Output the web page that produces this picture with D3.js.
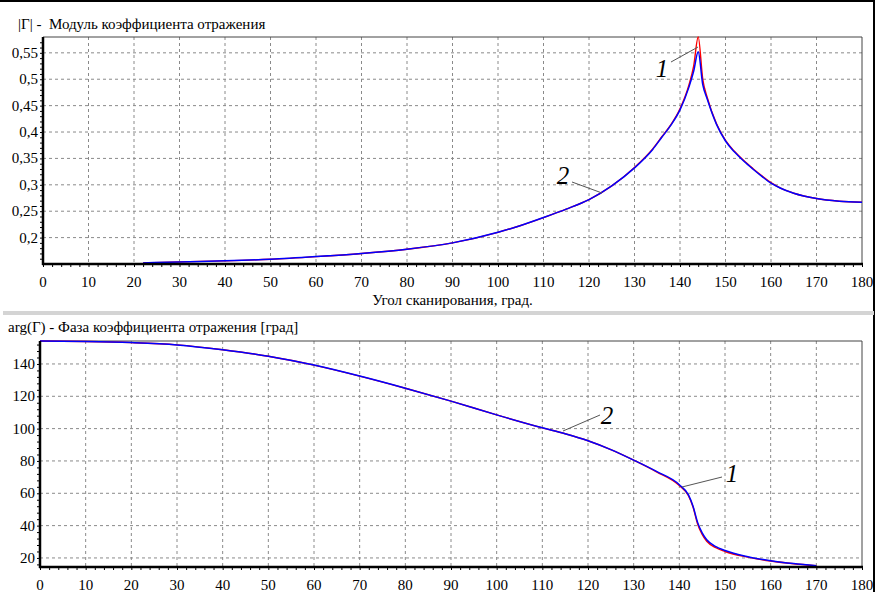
<!DOCTYPE html>
<html>
<head>
<meta charset="utf-8">
<script src="https://d3js.org/d3.v7.min.js"></script>
<style>
  body { margin: 0; background: #fff; }
  .grid line { stroke: #8a8a8a; stroke-dasharray: 3,3; }
  .axis path, .axis line { stroke: #000; }
</style>
</head>
<body>
<script>
// |Г| - module of reflection coefficient
var angleMod = [22, 30, 40, 50, 60, 70, 80, 90, 100, 105, 110, 115, 120, 125, 130, 134, 136, 138, 140, 142, 143, 144, 145, 146, 148, 150, 152, 154, 156, 158, 160, 162, 165, 170, 175, 180];
var modBlue  = [0.152, 0.154, 0.156, 0.159, 0.164, 0.170, 0.178, 0.190, 0.210, 0.223, 0.238, 0.254, 0.272, 0.298, 0.332, 0.367, 0.390, 0.413, 0.442, 0.486, 0.515, 0.552, 0.490, 0.462, 0.415, 0.383, 0.362, 0.345, 0.330, 0.316, 0.303, 0.294, 0.284, 0.274, 0.269, 0.267];
var modRed   = [0.152, 0.154, 0.156, 0.159, 0.164, 0.170, 0.178, 0.190, 0.210, 0.223, 0.238, 0.254, 0.272, 0.298, 0.333, 0.368, 0.391, 0.414, 0.444, 0.490, 0.525, 0.580, 0.500, 0.465, 0.416, 0.384, 0.363, 0.346, 0.331, 0.317, 0.304, 0.294, 0.284, 0.274, 0.269, 0.267];
var modTicks = [0.2, 0.25, 0.3, 0.35, 0.4, 0.45, 0.5, 0.55];

// arg(Г) - phase, degrees
var anglePh  = [0, 10, 20, 30, 40, 50, 60, 70, 80, 90, 100, 110, 115, 120, 125, 130, 135, 140, 142, 143, 144, 145, 146, 148, 150, 155, 160, 165, 170];
var phBlue   = [154.2, 153.9, 153.2, 151.8, 148.8, 144.8, 139.3, 132.5, 125.0, 117.0, 108.5, 100.5, 96.8, 92.5, 87.0, 80.5, 73.5, 65.3, 59.0, 52.0, 42.0, 35.5, 31.3, 27.0, 24.6, 20.8, 18.3, 16.5, 15.2];
var phRed    = [154.2, 153.9, 153.2, 151.8, 148.8, 144.8, 139.3, 132.5, 125.0, 117.0, 108.5, 100.5, 96.8, 92.5, 87.0, 80.5, 73.3, 64.8, 58.5, 51.5, 41.0, 34.5, 30.3, 26.3, 24.0, 20.5, 18.1, 16.4, 15.2];
var phTicks  = [20, 40, 60, 80, 100, 120, 140];

var xTicks = d3.range(0, 181, 10);
var FONT = "'Liberation Serif', 'DejaVu Serif', 'Noto Serif', serif";

var W = 875, H = 592;
var svg = d3.select("body").append("svg").attr("width", W).attr("height", H)
    .attr("font-family", FONT);

// window frame and separator
svg.append("line").attr("x1", 0).attr("x2", W).attr("y1", 1).attr("y2", 1).attr("stroke", "#000").attr("stroke-width", 2);
svg.append("line").attr("x1", W - 1).attr("x2", W - 1).attr("y1", 0).attr("y2", H).attr("stroke", "#000").attr("stroke-width", 2);
svg.append("rect").attr("x", 3).attr("y", 311).attr("width", W - 4).attr("height", 4).attr("fill", "#d4d4d4");

function label(g) {
  return g.append("text").style("font-family", FONT).attr("fill", "#000");
}

function drawPanel(p) {
  var x = d3.scaleLinear().domain([0, 180]).range([p.left, p.right]);
  var y = d3.scaleLinear().domain(p.yDomain).range([p.bottom, p.top]);
  var g = svg.append("g");

  // grid
  var grid = g.append("g").attr("class", "grid");
  grid.selectAll(".gx").data(xTicks.slice(1, -1)).enter().append("line")
      .attr("x1", function(d) { return x(d); }).attr("x2", function(d) { return x(d); })
      .attr("y1", p.top).attr("y2", p.bottom);
  grid.selectAll(".gy").data(p.yTicks).enter().append("line")
      .attr("x1", p.left).attr("x2", p.right)
      .attr("y1", function(d) { return y(d); }).attr("y2", function(d) { return y(d); });

  // plot frame top/right
  g.append("path").attr("d", "M" + p.left + "," + p.top + "H" + p.right + "V" + p.bottom)
      .attr("fill", "none").attr("stroke", "#444").attr("stroke-width", 1);

  // curves
  var line = d3.line().curve(d3.curveMonotoneX)
      .x(function(d) { return x(d[0]); }).y(function(d) { return y(d[1]); });
  g.append("path").datum(d3.zip(p.xs, p.red)).attr("d", line)
      .attr("fill", "none").attr("stroke", "#ff0000").attr("stroke-width", 1.4);
  g.append("path").datum(d3.zip(p.xs, p.blue)).attr("d", line)
      .attr("fill", "none").attr("stroke", "#0000ff").attr("stroke-width", 1.5);

  // x axis
  var xa = g.append("g").attr("class", "axis").attr("transform", "translate(0," + p.bottom + ")")
      .call(d3.axisBottom(x).tickValues(d3.range(0, 181, 2)).tickSize(3).tickFormat(""));
  xa.select(".domain").remove();
  g.append("line").attr("x1", p.left - 1).attr("x2", p.right + 1).attr("y1", p.bottom).attr("y2", p.bottom)
      .attr("stroke", "#000").attr("stroke-width", 2.5);
  xTicks.forEach(function(d) {
    label(g).attr("x", x(d)).attr("y", p.bottom + 23)
        .attr("text-anchor", "middle").style("font-size", "15px").text(d);
  });

  // y axis
  var ya = g.append("g").attr("class", "axis").attr("transform", "translate(" + p.left + ",0)")
      .call(d3.axisLeft(y).tickValues(p.minor).tickSize(3).tickFormat(""));
  ya.select(".domain").remove();
  g.append("line").attr("x1", p.left).attr("x2", p.left).attr("y1", p.top).attr("y2", p.bottom + 1)
      .attr("stroke", "#000").attr("stroke-width", 2.5);
  p.yTicks.forEach(function(d) {
    label(g).attr("x", p.left - 5).attr("y", y(d) + 5)
        .attr("text-anchor", "end").style("font-size", "15px").text(p.fmt(d));
  });

  // title
  label(g).attr("x", p.titleX).attr("y", p.titleY).style("font-size", "15px")
      .style("white-space", "pre").text(p.title);

  // labels 1 and 2 with leader lines
  p.notes.forEach(function(n) {
    g.append("line").attr("x1", n.lx1).attr("y1", n.ly1).attr("x2", n.lx2).attr("y2", n.ly2)
        .attr("stroke", "#555").attr("stroke-width", 1);
    label(g).attr("x", n.tx).attr("y", n.ty).attr("text-anchor", "middle")
        .style("font-size", "25px").style("font-style", "italic").text(n.label);
  });
  return {x: x, y: y, g: g};
}

var modPanel = drawPanel({
  left: 43, right: 862, top: 37, bottom: 264, yDomain: [0.15, 0.58],
  yTicks: modTicks, minor: d3.range(0.16, 0.58, 0.01),
  xs: angleMod, blue: modBlue, red: modRed,
  fmt: function(d) { return String(+d.toFixed(2)).replace(".", ","); },
  title: "|Г| -  Модуль коэффициента отражения", titleX: 18, titleY: 29,
  notes: [
    {label: "1", tx: 662, ty: 77, lx1: 671, ly1: 62, lx2: 698, ly2: 47},
    {label: "2", tx: 563, ty: 184, lx1: 572, ly1: 182, lx2: 602, ly2: 193}
  ]
});
label(modPanel.g).attr("x", modPanel.x(90)).attr("y", 305).attr("text-anchor", "middle")
    .style("font-size", "15px").text("Угол сканирования, град.");

drawPanel({
  left: 40, right: 862, top: 341, bottom: 567, yDomain: [14.4, 154.2],
  yTicks: phTicks, minor: d3.range(16, 154, 4),
  xs: anglePh, blue: phBlue, red: phRed,
  fmt: function(d) { return d; },
  title: "arg(Г) - Фаза коэффициента отражения [град]", titleX: 8, titleY: 332,
  notes: [
    {label: "2", tx: 607, ty: 424, lx1: 600, ly1: 415, lx2: 563, ly2: 431},
    {label: "1", tx: 732, ty: 482, lx1: 722, ly1: 477, lx2: 682, ly2: 487}
  ]
});
</script>
</body>
</html>
